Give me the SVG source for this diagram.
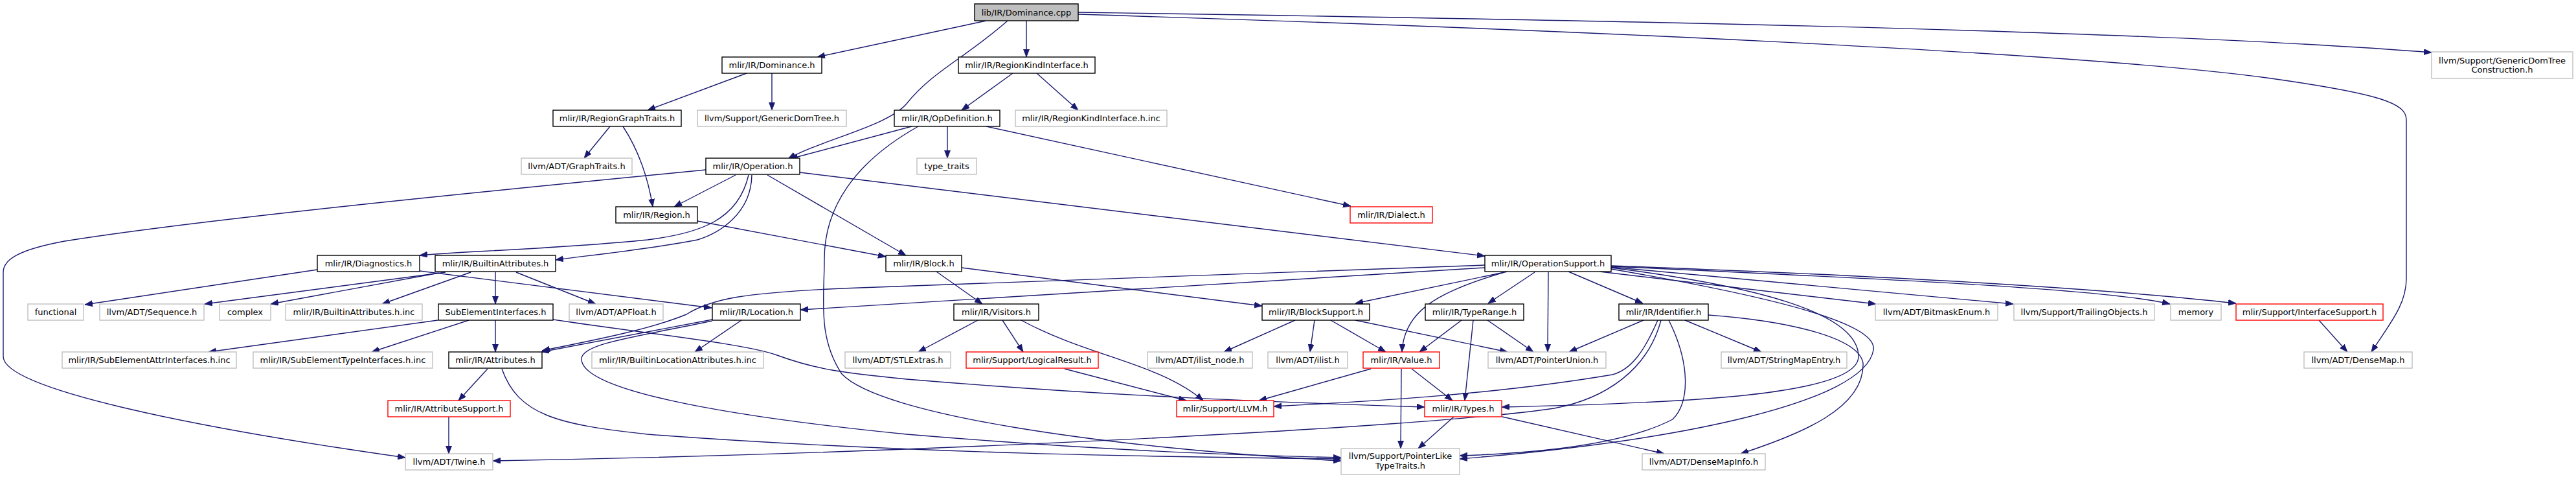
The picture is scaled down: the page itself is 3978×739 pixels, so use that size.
<svg xmlns="http://www.w3.org/2000/svg" width="3978" height="739" viewBox="0 0 3978 739">
<style>
.n rect{fill:#fff;stroke-width:1.4}
.doc rect{stroke:#000}
.ext rect{stroke:#bfbfbf}
.trunc rect{stroke:#ff0000}
.main rect{fill:#bfbfbf;stroke:#000}
text{font-family:"DejaVu Sans","Liberation Sans",sans-serif;font-size:13px;fill:#000;text-anchor:middle}
#edges path{fill:none;stroke:#191970;stroke-width:1.4;marker-end:url(#ah)}
</style>
<defs>
<marker id="ah" markerUnits="userSpaceOnUse" markerWidth="13" markerHeight="10" refX="12" refY="4.5" orient="auto">
<path d="M0,0 L12,4.5 L0,9 z" fill="#191970" stroke="#191970" stroke-width="0.8"/>
</marker>
</defs>
<rect width="3978" height="739" fill="#fff"/>
<g id="edges">
<path d="M1523,32 L1262,88"/>
<path d="M1556,32 C1490,90 1440,110 1400,160 C1370,195 1270,215 1217,245"/>
<path d="M1585,32 L1585,88"/>
<path d="M1665,19 C2400,30 3300,45 3755,81"/>
<path d="M1665,22 C2400,45 3200,80 3500,120 C3680,145 3716,160 3716,185 L3716,430 C3716,470 3690,500 3662,543"/>
<path d="M1153,113 L1000,170"/>
<path d="M1192,113 L1192,170"/>
<path d="M1564,113 L1485,170"/>
<path d="M1601,113 L1665,170"/>
<path d="M942,195 L902,244"/>
<path d="M962,195 C985,230 1000,270 1008,319"/>
<path d="M1408,195 L1220,245"/>
<path d="M1463,195 L1463,244"/>
<path d="M1418,195 C1320,250 1273,320 1273,400 C1273,460 1262,520 1300,577 C1360,640 1700,690 2071,711"/>
<path d="M1523,195 L2086,318"/>
<path d="M1136,270 L1041,319"/>
<path d="M1185,270 L1399,394"/>
<path d="M1235,266 L2293,395"/>
<path d="M1090,262 C700,300 300,340 100,372 C30,385 5,400 5,420 L5,550 C5,600 300,660 626,706"/>
<path d="M1156,270 C1140,340 1080,360 1000,370 C850,385 700,388 648,394"/>
<path d="M1161,270 C1160,330 1110,360 1077,370 C1000,385 900,395 858,401"/>
<path d="M1077,341 L1368,396"/>
<path d="M490,416 L131,470"/>
<path d="M648,418 L1099,475"/>
<path d="M688,420 L316,469"/>
<path d="M678,421 L418,469"/>
<path d="M727,420 L590,469"/>
<path d="M765,420 L765,469"/>
<path d="M797,420 L920,469"/>
<path d="M1446,419 L1517,469"/>
<path d="M1485,413 L1949,472"/>
<path d="M676,494 L322,543"/>
<path d="M724,494 L574,543"/>
<path d="M765,494 L765,543"/>
<path d="M854,493 C1000,515 1150,530 1200,548 C1260,570 1300,575 1400,585 C1700,610 1950,620 2200,628"/>
<path d="M1145,494 L1073,543"/>
<path d="M1100,493 L836,543"/>
<path d="M1100,495 C980,520 900,530 898,553 C896,600 1100,640 1400,670 C1700,695 1900,702 2071,706"/>
<path d="M2293,409 L1300,445 C1150,452 1100,460 1060,485 C1000,510 900,528 837,541"/>
<path d="M2293,413 L1236,478"/>
<path d="M2328,419 L2093,468"/>
<path d="M2323,420 C2220,450 2168,480 2165,543"/>
<path d="M2370,420 L2298,468"/>
<path d="M2391,420 L2390,543"/>
<path d="M2422,419 L2537,468"/>
<path d="M2470,419 L2897,469"/>
<path d="M2488,412 L3109,469"/>
<path d="M2488,411 C2900,430 3250,445 3351,469"/>
<path d="M2488,410 C2900,425 3250,445 3453,468"/>
<path d="M2488,413 C2700,440 2870,480 2870,550 C2870,610 2600,622 2319,628"/>
<path d="M2488,415 C2750,460 2900,500 2893,540 C2880,620 2600,680 2254,708"/>
<path d="M2257,494 L2192,543"/>
<path d="M2275,494 L2262,618"/>
<path d="M2297,494 L2368,543"/>
<path d="M2000,494 L1890,543"/>
<path d="M2030,494 L2023,543"/>
<path d="M2055,494 L2140,543"/>
<path d="M2093,494 L2328,543"/>
<path d="M2538,494 L2423,543"/>
<path d="M2602,494 L2720,543"/>
<path d="M2560,494 C2540,540 2520,570 2490,578 C2300,610 2100,620 1967,627"/>
<path d="M2565,494 C2545,570 2480,615 2400,630 C2200,660 1400,700 761,711"/>
<path d="M2577,494 C2610,560 2610,620 2583,647 C2500,690 2350,700 2254,703"/>
<path d="M2638,486 C2760,495 2870,520 2877,560 C2880,630 2780,670 2688,700"/>
<path d="M2117,569 L1944,618"/>
<path d="M2164,569 L2163,692"/>
<path d="M2180,569 L2243,618"/>
<path d="M2245,643 L2190,692"/>
<path d="M2320,643 L2570,700"/>
<path d="M1510,494 L1418,543"/>
<path d="M1548,494 L1580,543"/>
<path d="M1577,494 C1680,550 1790,560 1858,618"/>
<path d="M1644,569 L1832,618"/>
<path d="M753,569 L708,618"/>
<path d="M775,569 C800,640 860,655 1000,670 C1400,700 1800,705 2071,708"/>
<path d="M693,643 L693,700"/>
<path d="M3581,494 L3625,543"/>
</g>
<g id="n0" class="n main"><rect x="1505" y="6" width="160" height="26"/><text x="1585" y="23.5">lib/IR/Dominance.cpp</text></g>
<g id="n1" class="n doc"><rect x="1115" y="88" width="154" height="25"/><text x="1192" y="105">mlir/IR/Dominance.h</text></g>
<g id="n2" class="n doc"><rect x="1480" y="88" width="211" height="25"/><text x="1585.5" y="105">mlir/IR/RegionKindInterface.h</text></g>
<g id="n3" class="n ext"><rect x="3755" y="80" width="218" height="41"/><text x="3864" y="97.5">llvm/Support/GenericDomTree</text><text x="3864" y="112">Construction.h</text></g>
<g id="n4" class="n doc"><rect x="854" y="170" width="198" height="25"/><text x="953" y="187">mlir/IR/RegionGraphTraits.h</text></g>
<g id="n5" class="n ext"><rect x="1077" y="170" width="230" height="25"/><text x="1192" y="187">llvm/Support/GenericDomTree.h</text></g>
<g id="n6" class="n doc"><rect x="1381" y="170" width="163" height="25"/><text x="1462.5" y="187">mlir/IR/OpDefinition.h</text></g>
<g id="n7" class="n ext"><rect x="1568" y="170" width="234" height="25"/><text x="1685" y="187">mlir/IR/RegionKindInterface.h.inc</text></g>
<g id="n8" class="n ext"><rect x="805" y="244" width="171" height="25"/><text x="890.5" y="261">llvm/ADT/GraphTraits.h</text></g>
<g id="n9" class="n doc"><rect x="1090" y="244" width="145" height="25"/><text x="1162.5" y="261">mlir/IR/Operation.h</text></g>
<g id="n10" class="n ext"><rect x="1416" y="244" width="92" height="25"/><text x="1462" y="261">type_traits</text></g>
<g id="n11" class="n doc"><rect x="951" y="319" width="126" height="25"/><text x="1014" y="336">mlir/IR/Region.h</text></g>
<g id="n12" class="n trunc"><rect x="2085" y="319" width="127" height="25"/><text x="2148.5" y="336">mlir/IR/Dialect.h</text></g>
<g id="n13" class="n doc"><rect x="490" y="394" width="158" height="25"/><text x="569" y="411">mlir/IR/Diagnostics.h</text></g>
<g id="n14" class="n doc"><rect x="672" y="394" width="186" height="25"/><text x="765" y="411">mlir/IR/BuiltinAttributes.h</text></g>
<g id="n15" class="n doc"><rect x="1368" y="394" width="117" height="25"/><text x="1426.5" y="411">mlir/IR/Block.h</text></g>
<g id="n16" class="n doc"><rect x="2293" y="394" width="195" height="25"/><text x="2390.5" y="411">mlir/IR/OperationSupport.h</text></g>
<g id="n17" class="n ext"><rect x="43" y="469" width="86" height="25"/><text x="86" y="486">functional</text></g>
<g id="n18" class="n ext"><rect x="154" y="469" width="161" height="25"/><text x="234.5" y="486">llvm/ADT/Sequence.h</text></g>
<g id="n19" class="n ext"><rect x="339" y="469" width="79" height="25"/><text x="378.5" y="486">complex</text></g>
<g id="n20" class="n ext"><rect x="441" y="469" width="211" height="25"/><text x="546.5" y="486">mlir/IR/BuiltinAttributes.h.inc</text></g>
<g id="n21" class="n doc"><rect x="677" y="469" width="177" height="25"/><text x="765.5" y="486">SubElementInterfaces.h</text></g>
<g id="n22" class="n ext"><rect x="879" y="469" width="145" height="25"/><text x="951.5" y="486">llvm/ADT/APFloat.h</text></g>
<g id="n23" class="n doc"><rect x="1100" y="469" width="136" height="25"/><text x="1168" y="486">mlir/IR/Location.h</text></g>
<g id="n24" class="n doc"><rect x="1473" y="469" width="131" height="25"/><text x="1538.5" y="486">mlir/IR/Visitors.h</text></g>
<g id="n25" class="n doc"><rect x="1949" y="469" width="166" height="25"/><text x="2032" y="486">mlir/IR/BlockSupport.h</text></g>
<g id="n26" class="n doc"><rect x="2201" y="469" width="152" height="25"/><text x="2277" y="486">mlir/IR/TypeRange.h</text></g>
<g id="n27" class="n doc"><rect x="2500" y="469" width="138" height="25"/><text x="2569" y="486">mlir/IR/Identifier.h</text></g>
<g id="n28" class="n ext"><rect x="2896" y="469" width="189" height="25"/><text x="2990.5" y="486">llvm/ADT/BitmaskEnum.h</text></g>
<g id="n29" class="n ext"><rect x="3110" y="469" width="217" height="25"/><text x="3218.5" y="486">llvm/Support/TrailingObjects.h</text></g>
<g id="n30" class="n ext"><rect x="3352" y="469" width="78" height="25"/><text x="3391" y="486">memory</text></g>
<g id="n31" class="n trunc"><rect x="3453" y="469" width="227" height="25"/><text x="3566.5" y="486">mlir/Support/InterfaceSupport.h</text></g>
<g id="n32" class="n ext"><rect x="96" y="543" width="269" height="25"/><text x="230.5" y="560">mlir/IR/SubElementAttrInterfaces.h.inc</text></g>
<g id="n33" class="n ext"><rect x="391" y="543" width="277" height="25"/><text x="529.5" y="560">mlir/IR/SubElementTypeInterfaces.h.inc</text></g>
<g id="n34" class="n doc"><rect x="693" y="543" width="144" height="25"/><text x="765" y="560">mlir/IR/Attributes.h</text></g>
<g id="n35" class="n ext"><rect x="914" y="543" width="265" height="25"/><text x="1046.5" y="560">mlir/IR/BuiltinLocationAttributes.h.inc</text></g>
<g id="n36" class="n ext"><rect x="1305" y="543" width="163" height="25"/><text x="1386.5" y="560">llvm/ADT/STLExtras.h</text></g>
<g id="n37" class="n trunc"><rect x="1492" y="543" width="204" height="25"/><text x="1594" y="560">mlir/Support/LogicalResult.h</text></g>
<g id="n38" class="n ext"><rect x="1772" y="543" width="162" height="25"/><text x="1853" y="560">llvm/ADT/ilist_node.h</text></g>
<g id="n39" class="n ext"><rect x="1958" y="543" width="123" height="25"/><text x="2019.5" y="560">llvm/ADT/ilist.h</text></g>
<g id="n40" class="n trunc"><rect x="2105" y="543" width="118" height="25"/><text x="2164" y="560">mlir/IR/Value.h</text></g>
<g id="n41" class="n ext"><rect x="2298" y="543" width="182" height="25"/><text x="2389" y="560">llvm/ADT/PointerUnion.h</text></g>
<g id="n42" class="n ext"><rect x="2658" y="543" width="194" height="25"/><text x="2755" y="560">llvm/ADT/StringMapEntry.h</text></g>
<g id="n43" class="n ext"><rect x="3558" y="543" width="167" height="25"/><text x="3641.5" y="560">llvm/ADT/DenseMap.h</text></g>
<g id="n44" class="n trunc"><rect x="599" y="618" width="189" height="25"/><text x="693.5" y="635">mlir/IR/AttributeSupport.h</text></g>
<g id="n45" class="n trunc"><rect x="1817" y="618" width="150" height="25"/><text x="1892" y="635">mlir/Support/LLVM.h</text></g>
<g id="n46" class="n trunc"><rect x="2200" y="618" width="119" height="25"/><text x="2259.5" y="635">mlir/IR/Types.h</text></g>
<g id="n47" class="n ext"><rect x="626" y="700" width="135" height="25"/><text x="693.5" y="717">llvm/ADT/Twine.h</text></g>
<g id="n48" class="n ext"><rect x="2071" y="692" width="183" height="40"/><text x="2162.5" y="708">llvm/Support/PointerLike</text><text x="2162.5" y="722.5">TypeTraits.h</text></g>
<g id="n49" class="n ext"><rect x="2536" y="700" width="190" height="25"/><text x="2631" y="717">llvm/ADT/DenseMapInfo.h</text></g>
</svg>
